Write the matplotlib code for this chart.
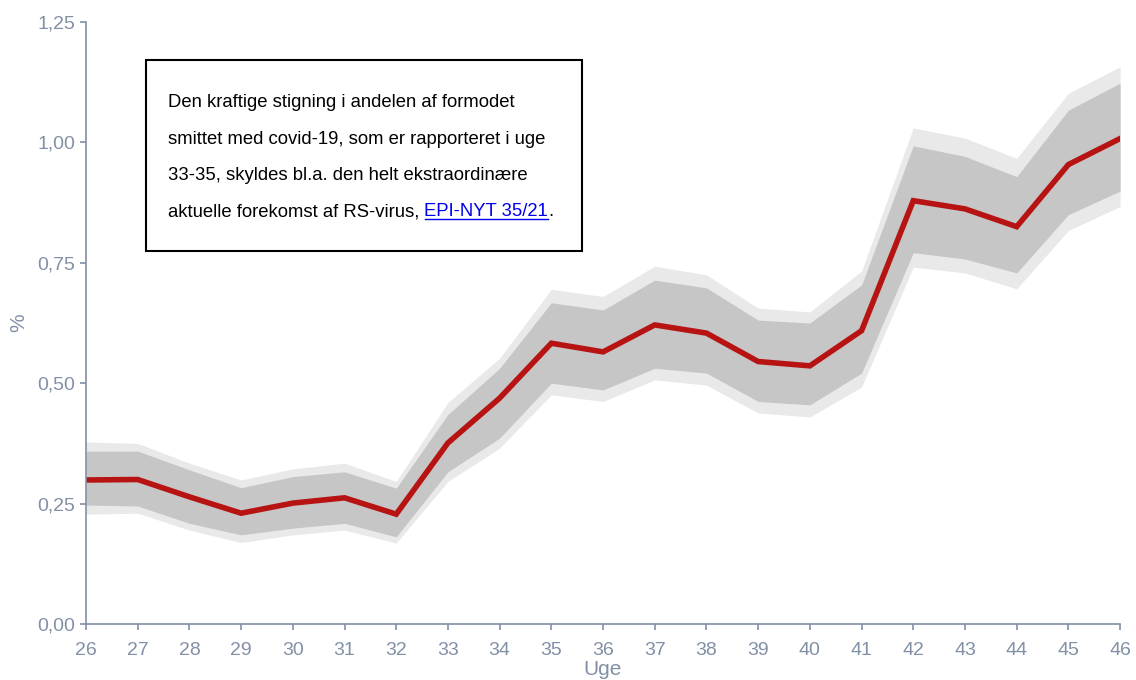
import numpy as np
import matplotlib
matplotlib.use('Agg')
import matplotlib.pyplot as plt
from matplotlib.lines import Line2D

plt.rcParams['font.family'] = ['Liberation Sans', 'DejaVu Sans']

uger = np.arange(26, 47)
andel = [0.299, 0.300, 0.264, 0.230, 0.251, 0.262, 0.228, 0.376, 0.469, 0.583, 0.565,
         0.621, 0.604, 0.545, 0.536, 0.609, 0.879, 0.862, 0.825, 0.954, 1.008]
indre_hoej = [0.359, 0.359, 0.320, 0.283, 0.306, 0.316, 0.282, 0.435, 0.531, 0.667, 0.652,
              0.714, 0.698, 0.631, 0.625, 0.704, 0.993, 0.971, 0.929, 1.067, 1.123]
indre_lav = [0.247, 0.245, 0.209, 0.185, 0.199, 0.209, 0.181, 0.316, 0.386, 0.500, 0.486,
             0.531, 0.521, 0.462, 0.455, 0.521, 0.771, 0.758, 0.729, 0.850, 0.899]
ydre_hoej = [0.378, 0.375, 0.334, 0.299, 0.322, 0.334, 0.296, 0.460, 0.552, 0.695, 0.680,
             0.743, 0.725, 0.656, 0.648, 0.733, 1.030, 1.009, 0.967, 1.102, 1.157]
ydre_lav = [0.228, 0.230, 0.195, 0.169, 0.185, 0.195, 0.168, 0.296, 0.365, 0.476, 0.462,
            0.507, 0.496, 0.438, 0.430, 0.492, 0.741, 0.729, 0.696, 0.817, 0.867]
yticks = [0, 0.25, 0.5, 0.75, 1.0, 1.25]

akse_farve = '#8290a6'

fig = plt.figure(figsize=(11.36, 6.8), dpi=100)
ax = fig.add_axes([0.0757, 0.0824, 0.9103, 0.8852])

ax.fill_between(uger, ydre_lav, ydre_hoej, color='#e9e9e9', lw=0)
ax.fill_between(uger, indre_lav, indre_hoej, color='#c6c6c6', lw=0)
ax.plot(uger, andel, color='#b71313', lw=4, solid_joinstyle='miter')

ax.set_xlim(26, 46)
ax.set_ylim(0, 1.25)
ax.set_xticks(uger)
ax.set_yticks(yticks)
ax.set_yticklabels([f'{v:.2f}'.replace('.', ',') for v in yticks])
for s in ['top', 'right']:
    ax.spines[s].set_visible(False)
for s in ['left', 'bottom']:
    ax.spines[s].set_color(akse_farve)
    ax.spines[s].set_linewidth(1.2)
ax.tick_params(colors=akse_farve, labelsize=14, length=4, width=1.2)
ax.tick_params(axis='x', pad=9)
ax.tick_params(axis='y', pad=4)
ax.set_xlabel('Uge', color=akse_farve, fontsize=15, labelpad=1)
ax.set_ylabel('%', color=akse_farve, fontsize=15, labelpad=6)

# tekstboks med kommentar
boks = plt.Rectangle((146 / 1136, 1 - 251 / 680), 436 / 1136, 191 / 680, transform=fig.transFigure,
                     fill=True, facecolor='white', edgecolor='black', lw=1.5, zorder=5)
fig.add_artist(boks)

fs = 13.3
linjer = ['Den kraftige stigning i andelen af formodet',
          'smittet med covid-19, som er rapporteret i uge',
          '33-35, skyldes bl.a. den helt ekstraordinære']
x0 = 168 / 1136
y_base = [107, 143.5, 180, 216.5]
for t, yb in zip(linjer, y_base):
    fig.text(x0, 1 - yb / 680, t, fontsize=fs, color='black', va='baseline', zorder=6)

sidste = fig.text(x0, 1 - y_base[3] / 680, 'aktuelle forekomst af RS-virus, ', fontsize=fs,
                  color='black', va='baseline', zorder=6)
fig.canvas.draw()
r = fig.canvas.get_renderer()
bb = sidste.get_window_extent(r)
link = fig.text(bb.x1 / 1136, 1 - y_base[3] / 680, 'EPI-NYT 35/21', fontsize=fs,
                color='#0000ee', va='baseline', zorder=6)
bb2 = link.get_window_extent(r)
fig.text(bb2.x1 / 1136, 1 - y_base[3] / 680, '.', fontsize=fs, color='black', va='baseline', zorder=6)
uy = 1 - (y_base[3] + 2.5) / 680
fig.add_artist(Line2D([bb2.x0 / 1136, bb2.x1 / 1136], [uy, uy], color='#0000ee', lw=1.0,
                      transform=fig.transFigure, zorder=6))

fig.savefig('out.png', dpi=100)
